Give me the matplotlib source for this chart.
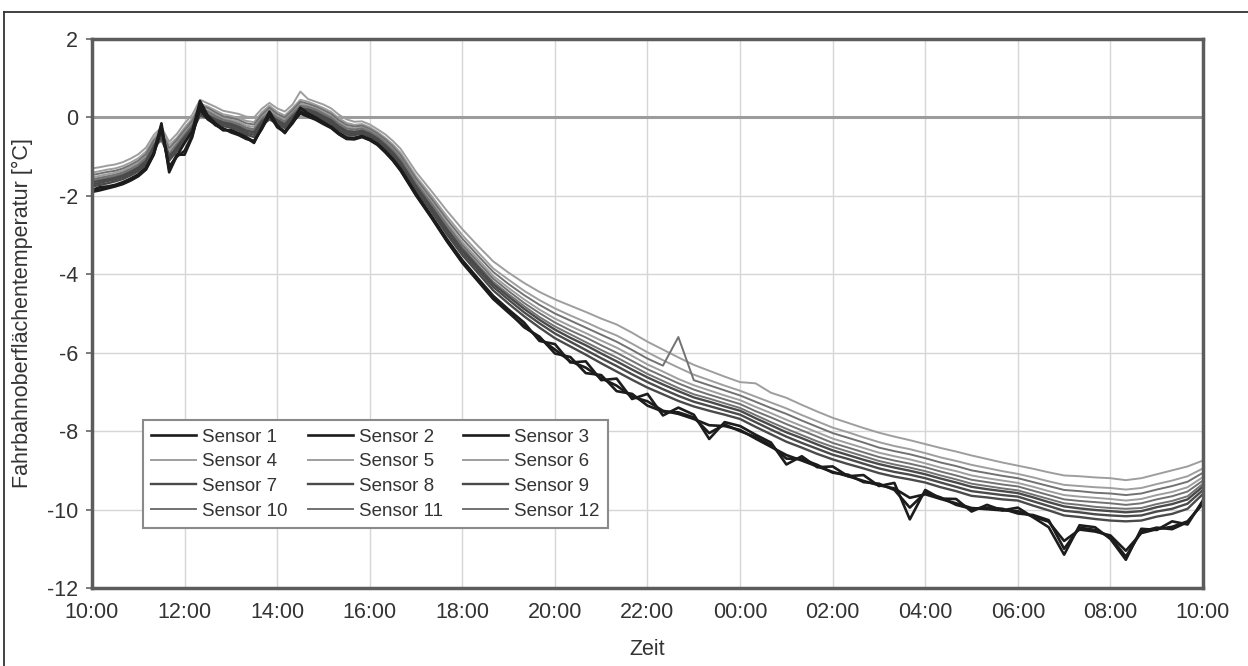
import numpy as np
import matplotlib
matplotlib.use("Agg")
import matplotlib.pyplot as plt
from matplotlib.lines import Line2D

plt.rcParams['font.family'] = ['Liberation Sans', 'DejaVu Sans']
plt.rcParams['axes.unicode_minus'] = False

# Sampling grid: hours after 10:00 (10-min steps until 16:40, then 20-min steps until 10:00)
hours = np.concatenate([np.arange(0, 41) / 6.0, 20.0 / 3.0 + np.arange(1, 53) / 3.0])

tick_hours = list(range(0, 25, 2))
tick_labels = ["10:00", "12:00", "14:00", "16:00", "18:00", "20:00", "22:00",
               "00:00", "02:00", "04:00", "06:00", "08:00", "10:00"]
y_ticks = [-12, -10, -8, -6, -4, -2, 0, 2]

# Road surface temperature per sensor [°C]
sensor_1 = [-1.85, -1.78, -1.76, -1.72, -1.65, -1.56, -1.45, -1.28, -0.91, -0.15,
            -1.40, -0.98, -0.65, -0.35, 0.42, 0.05, -0.15, -0.30, -0.35, -0.42,
            -0.52, -0.65, -0.25, 0.15, -0.20, -0.40, -0.10, 0.25, 0.10, 0.00,
            -0.12, -0.23, -0.39, -0.51, -0.52, -0.47, -0.55, -0.67, -0.85, -1.06, -1.31,
            -1.94, -2.51, -3.10, -3.64, -4.10, -4.55, -4.90, -5.23, -5.70, -5.78,
            -6.25, -6.22, -6.70, -6.66, -7.18, -7.05, -7.60, -7.40, -7.58, -8.20,
            -7.77, -7.87, -8.09, -8.29, -8.85, -8.64, -8.92, -8.90, -9.15, -9.12,
            -9.40, -9.32, -10.25, -9.50, -9.72, -9.73, -10.05, -9.88, -10.02, -9.95,
            -10.20, -10.45, -11.15, -10.40, -10.45, -10.75, -11.28, -10.49, -10.52, -10.30,
            -10.38, -9.76]
sensor_2 = [-1.88, -1.84, -1.79, -1.74, -1.68, -1.59, -1.48, -1.31, -0.94, -0.22,
            -1.32, -0.95, -0.95, -0.50, 0.30, 0.00, -0.20, -0.28, -0.38, -0.45,
            -0.55, -0.60, -0.30, 0.08, -0.25, -0.38, -0.15, 0.15, 0.05, -0.04,
            -0.15, -0.26, -0.42, -0.54, -0.54, -0.49, -0.57, -0.69, -0.87, -1.09, -1.34,
            -1.97, -2.54, -3.14, -3.68, -4.14, -4.60, -4.95, -5.35, -5.59, -6.02,
            -6.11, -6.52, -6.57, -6.98, -7.05, -7.35, -7.50, -7.52, -7.65, -8.05,
            -7.83, -8.00, -8.15, -8.36, -8.70, -8.71, -8.86, -9.06, -9.11, -9.30,
            -9.34, -9.50, -9.95, -9.57, -9.69, -9.88, -9.98, -9.95, -9.98, -10.10,
            -10.14, -10.27, -11.00, -10.46, -10.52, -10.70, -11.20, -10.56, -10.46, -10.50,
            -10.32, -9.82]
sensor_3 = [-1.90, -1.86, -1.81, -1.76, -1.70, -1.61, -1.50, -1.33, -0.95, -0.30,
            -1.25, -1.00, -0.85, -0.45, 0.20, -0.05, -0.18, -0.33, -0.32, -0.40,
            -0.50, -0.62, -0.28, 0.05, -0.22, -0.36, -0.12, 0.10, 0.02, -0.06,
            -0.17, -0.27, -0.43, -0.55, -0.56, -0.50, -0.58, -0.70, -0.89, -1.10, -1.36,
            -1.99, -2.56, -3.16, -3.71, -4.17, -4.63, -4.98, -5.32, -5.63, -5.92,
            -6.22, -6.38, -6.65, -6.84, -7.12, -7.24, -7.48, -7.56, -7.69, -7.85,
            -7.87, -7.97, -8.19, -8.40, -8.61, -8.75, -8.90, -9.04, -9.15, -9.27,
            -9.38, -9.46, -9.70, -9.61, -9.73, -9.84, -9.96, -9.99, -10.02, -10.04,
            -10.18, -10.31, -10.80, -10.51, -10.56, -10.66, -11.05, -10.60, -10.50, -10.44,
            -10.30, -9.85]
sensor_4 = [-1.30, -1.27, -1.23, -1.20, -1.14, -1.05, -0.94, -0.77, -0.45, -0.25,
            -0.62, -0.42, -0.15, 0.07, 0.45, 0.36, 0.27, 0.17, 0.13, 0.09,
            0.02, 0.00, 0.22, 0.37, 0.23, 0.15, 0.33, 0.66, 0.47, 0.40,
            0.33, 0.23, 0.07, -0.05, -0.11, -0.10, -0.18, -0.30, -0.43, -0.60, -0.80,
            -1.39, -1.88, -2.38, -2.85, -3.27, -3.67, -3.96, -4.22, -4.45, -4.64,
            -4.80, -4.96, -5.13, -5.28, -5.49, -5.72, -5.92, -6.12, -6.31, -6.46,
            -6.61, -6.75, -6.78, -7.02, -7.15, -7.33, -7.50, -7.66, -7.79, -7.92,
            -8.04, -8.14, -8.23, -8.33, -8.43, -8.52, -8.62, -8.71, -8.80, -8.88,
            -8.96, -9.05, -9.13, -9.15, -9.18, -9.20, -9.25, -9.20, -9.10, -9.00,
            -8.90, -8.75]
sensor_5 = [-1.41, -1.37, -1.33, -1.30, -1.24, -1.15, -1.04, -0.87, -0.54, -0.30,
            -0.70, -0.52, -0.26, -0.03, 0.35, 0.28, 0.18, 0.08, 0.04, -0.01,
            -0.09, -0.12, 0.13, 0.30, 0.14, 0.05, 0.24, 0.45, 0.40, 0.32,
            0.24, 0.14, -0.02, -0.14, -0.19, -0.17, -0.25, -0.37, -0.52, -0.69, -0.90,
            -1.50, -2.00, -2.52, -3.00, -3.43, -3.85, -4.14, -4.42, -4.66, -4.87,
            -5.05, -5.22, -5.40, -5.56, -5.77, -5.99, -6.19, -6.38, -6.56, -6.70,
            -6.84, -6.97, -7.12, -7.27, -7.42, -7.59, -7.75, -7.91, -8.03, -8.16,
            -8.28, -8.38, -8.46, -8.56, -8.67, -8.76, -8.86, -8.94, -9.02, -9.09,
            -9.18, -9.28, -9.37, -9.40, -9.43, -9.45, -9.49, -9.45, -9.35, -9.26,
            -9.15, -8.95]
sensor_6 = [-1.53, -1.49, -1.45, -1.41, -1.35, -1.26, -1.15, -0.98, -0.64, -0.40,
            -0.85, -0.62, -0.38, -0.13, 0.25, 0.18, 0.08, -0.02, -0.06, -0.11,
            -0.21, -0.24, 0.02, 0.20, 0.04, -0.05, 0.14, 0.35, 0.30, 0.23,
            0.14, 0.04, -0.12, -0.24, -0.28, -0.25, -0.33, -0.45, -0.61, -0.79, -1.01,
            -1.62, -2.14, -2.68, -3.18, -3.61, -4.04, -4.35, -4.64, -4.90, -5.13,
            -5.32, -5.50, -5.69, -5.87, -6.08, -6.30, -6.48, -6.67, -6.83, -6.96,
            -7.09, -7.21, -7.38, -7.54, -7.71, -7.87, -8.03, -8.19, -8.31, -8.43,
            -8.55, -8.64, -8.72, -8.82, -8.93, -9.02, -9.13, -9.20, -9.26, -9.32,
            -9.42, -9.53, -9.63, -9.67, -9.70, -9.73, -9.77, -9.73, -9.63, -9.55,
            -9.43, -9.17]
sensor_7 = [-1.66, -1.62, -1.58, -1.54, -1.48, -1.39, -1.28, -1.11, -0.75, -0.35,
            -1.05, -0.76, -0.50, -0.26, 0.15, 0.05, -0.05, -0.13, -0.17, -0.24,
            -0.34, -0.38, -0.10, 0.05, -0.07, -0.18, 0.03, 0.22, 0.20, 0.13,
            0.03, -0.07, -0.23, -0.35, -0.38, -0.34, -0.42, -0.54, -0.71, -0.90, -1.14,
            -1.75, -2.29, -2.85, -3.37, -3.81, -4.25, -4.57, -4.88, -5.16, -5.41,
            -5.62, -5.81, -6.02, -6.22, -6.43, -6.63, -6.81, -6.98, -7.14, -7.25,
            -7.37, -7.48, -7.67, -7.85, -8.03, -8.18, -8.34, -8.49, -8.61, -8.73,
            -8.84, -8.93, -9.01, -9.10, -9.21, -9.31, -9.42, -9.48, -9.53, -9.58,
            -9.69, -9.81, -9.92, -9.97, -10.01, -10.04, -10.07, -10.04, -9.94, -9.86,
            -9.74, -9.41]
sensor_8 = [-1.71, -1.67, -1.62, -1.58, -1.52, -1.43, -1.32, -1.15, -0.79, -0.45,
            -0.98, -0.80, -0.55, -0.30, 0.10, 0.02, -0.08, -0.17, -0.21, -0.28,
            -0.39, -0.44, -0.15, 0.02, -0.11, -0.22, -0.01, 0.18, 0.17, 0.10,
            -0.01, -0.11, -0.27, -0.39, -0.41, -0.37, -0.45, -0.57, -0.74, -0.94, -1.18,
            -1.80, -2.34, -2.91, -3.43, -3.88, -4.32, -4.65, -4.97, -5.25, -5.51,
            -5.72, -5.93, -6.14, -6.34, -6.55, -6.75, -6.93, -7.10, -7.25, -7.36,
            -7.47, -7.58, -7.77, -7.96, -8.14, -8.30, -8.45, -8.60, -8.71, -8.83,
            -8.95, -9.04, -9.11, -9.20, -9.31, -9.42, -9.53, -9.58, -9.63, -9.67,
            -9.79, -9.91, -10.03, -10.07, -10.12, -10.15, -10.17, -10.15, -10.05, -9.98,
            -9.85, -9.50]
sensor_9 = [-1.76, -1.72, -1.68, -1.63, -1.57, -1.48, -1.37, -1.20, -0.84, -0.50,
            -1.10, -0.86, -0.60, -0.35, 0.05, -0.02, -0.12, -0.22, -0.26, -0.33,
            -0.44, -0.50, -0.20, -0.05, -0.16, -0.27, -0.06, 0.12, 0.13, 0.06,
            -0.06, -0.16, -0.32, -0.44, -0.45, -0.41, -0.49, -0.61, -0.78, -0.99, -1.23,
            -1.85, -2.40, -2.98, -3.51, -3.96, -4.41, -4.75, -5.07, -5.36, -5.63,
            -5.84, -6.05, -6.27, -6.48, -6.69, -6.89, -7.06, -7.23, -7.37, -7.48,
            -7.58, -7.69, -7.89, -8.08, -8.27, -8.42, -8.58, -8.72, -8.84, -8.95,
            -9.07, -9.16, -9.23, -9.31, -9.43, -9.53, -9.65, -9.69, -9.74, -9.77,
            -9.90, -10.02, -10.15, -10.19, -10.24, -10.28, -10.30, -10.28, -10.18, -10.11,
            -9.98, -9.60]
sensor_10 = [-1.47, -1.43, -1.39, -1.36, -1.30, -1.21, -1.10, -0.93, -0.59, -0.38,
             -0.78, -0.57, -0.32, -0.08, 0.30, 0.24, 0.13, 0.03, -0.01, -0.06,
             -0.15, -0.18, 0.07, 0.25, 0.09, 0.00, 0.19, 0.40, 0.35, 0.28,
             0.19, 0.09, -0.07, -0.19, -0.23, -0.21, -0.29, -0.41, -0.56, -0.74, -0.96,
             -1.56, -2.07, -2.60, -3.09, -3.52, -3.94, -4.25, -4.53, -4.78, -5.00,
             -5.18, -5.36, -5.54, -5.72, -5.93, -6.15, -6.33, -5.60, -6.70, -6.83,
             -6.96, -7.09, -7.25, -7.41, -7.56, -7.73, -7.89, -8.05, -8.17, -8.29,
             -8.42, -8.51, -8.59, -8.69, -8.80, -8.89, -9.00, -9.07, -9.14, -9.20,
             -9.30, -9.40, -9.50, -9.53, -9.57, -9.59, -9.63, -9.59, -9.49, -9.40,
             -9.29, -9.06]
sensor_11 = [-1.58, -1.54, -1.50, -1.46, -1.40, -1.31, -1.20, -1.03, -0.68, -0.55,
             -0.92, -0.68, -0.43, -0.18, 0.20, 0.15, 0.04, -0.06, -0.10, -0.16,
             -0.26, -0.30, -0.03, 0.14, 0.00, -0.10, 0.10, 0.30, 0.27, 0.20,
             0.10, 0.00, -0.16, -0.28, -0.31, -0.28, -0.36, -0.48, -0.64, -0.83, -1.06,
             -1.67, -2.19, -2.74, -3.25, -3.68, -4.11, -4.43, -4.73, -4.99, -5.23,
             -5.43, -5.61, -5.81, -6.00, -6.21, -6.42, -6.60, -6.78, -6.94, -7.07,
             -7.19, -7.31, -7.49, -7.65, -7.82, -7.98, -8.14, -8.30, -8.42, -8.54,
             -8.66, -8.75, -8.83, -8.92, -9.03, -9.13, -9.24, -9.30, -9.36, -9.41,
             -9.52, -9.63, -9.74, -9.78, -9.81, -9.84, -9.88, -9.84, -9.74, -9.66,
             -9.54, -9.26]
sensor_12 = [-1.62, -1.58, -1.54, -1.50, -1.44, -1.35, -1.24, -1.07, -0.72, -0.60,
             -0.95, -0.72, -0.47, -0.22, 0.12, 0.10, 0.00, -0.10, -0.14, -0.20,
             -0.30, -0.34, -0.07, 0.10, -0.04, -0.14, 0.06, 0.26, 0.23, 0.16,
             0.06, -0.04, -0.20, -0.32, -0.35, -0.32, -0.40, -0.52, -0.68, -0.87, -1.10,
             -1.71, -2.25, -2.80, -3.31, -3.76, -4.19, -4.51, -4.81, -5.09, -5.33,
             -5.53, -5.73, -5.93, -6.12, -6.33, -6.54, -6.72, -6.90, -7.06, -7.17,
             -7.29, -7.41, -7.59, -7.77, -7.94, -8.10, -8.26, -8.40, -8.52, -8.64,
             -8.76, -8.85, -8.93, -9.02, -9.13, -9.23, -9.34, -9.40, -9.46, -9.51,
             -9.62, -9.73, -9.84, -9.88, -9.93, -9.96, -9.98, -9.96, -9.86, -9.78,
             -9.66, -9.34]

sensors = [sensor_1, sensor_2, sensor_3, sensor_4, sensor_5, sensor_6,
           sensor_7, sensor_8, sensor_9, sensor_10, sensor_11, sensor_12]
names = [f"Sensor {k}" for k in range(1, 13)]

# line style per sensor group: (colour, width, drawing order)
styles = ([("#1c1c1c", 1.9, 6)] * 3 + [("#9e9e9e", 1.4, 3)] * 3 +
          [("#4a4a4a", 1.7, 5)] * 3 + [("#727272", 1.4, 4)] * 3)

W, H = 1248, 666
fig = plt.figure(figsize=(W / 100, H / 100), dpi=100)
ax = fig.add_axes([92 / W, 1 - 588 / H, (1203 - 92) / W, (588 - 39) / H])

ax.set_xlim(0, 24)
ax.set_ylim(-12, 2)
ax.set_xticks(tick_hours)
ax.set_xticklabels(tick_labels)
ax.set_yticks(y_ticks)
ax.grid(True, color="#d6d6d6", lw=1.0)
ax.set_axisbelow(True)
ax.axhline(0, color="#9c9c9c", lw=2.2, zorder=1.5)

handles = []
for vals, name, (col, lw, z) in zip(sensors, names, styles):
    h, = ax.plot(hours, vals, color=col, lw=lw, zorder=z, label=name,
                 solid_joinstyle="round")
    handles.append(h)

for sp in ax.spines.values():
    sp.set_color("#5c5c5c")
    sp.set_linewidth(2.5)
    sp.set_zorder(10)

ax.tick_params(axis="both", labelsize=15.5, labelcolor="#333333")
ax.tick_params(axis="x", length=0, pad=10)
ax.tick_params(axis="y", length=4, width=1.2, color="#666666", direction="out", pad=6)

ax.set_ylabel("Fahrbahnoberflächentemperatur [°C]", fontsize=15.5, color="#333333")
ax.yaxis.set_label_coords(-0.053, 0.5)
ax.set_xlabel("Zeit", fontsize=15.5, color="#333333")
ax.xaxis.set_label_coords(0.5, -0.093)

# legend filled row by row: 1 2 3 / 4 5 6 / 7 8 9 / 10 11 12
order = [0, 3, 6, 9, 1, 4, 7, 10, 2, 5, 8, 11]
leg = ax.legend([handles[i] for i in order], [names[i] for i in order], ncol=3,
                loc="lower left", bbox_to_anchor=(51 / 1111, 60 / 549), borderaxespad=0,
                fontsize=13.5, handlelength=2.4, handletextpad=0.3, columnspacing=1.1,
                labelspacing=0.4, borderpad=0.45, frameon=True, fancybox=False,
                edgecolor="#8a8a8a", framealpha=1.0)
leg.get_frame().set_linewidth(1.5)
leg.set_zorder(20)
for txt in leg.get_texts():
    txt.set_color("#333333")

# outer frame of the figure (top and left edges)
fig.add_artist(Line2D([4 / W, 4 / W], [1 - 12 / H, 0], transform=fig.transFigure,
                      color="#333333", lw=1.3))
fig.add_artist(Line2D([4 / W, 1], [1 - 12 / H, 1 - 12 / H], transform=fig.transFigure,
                      color="#333333", lw=1.3))

fig.savefig("out.png", dpi=100)
